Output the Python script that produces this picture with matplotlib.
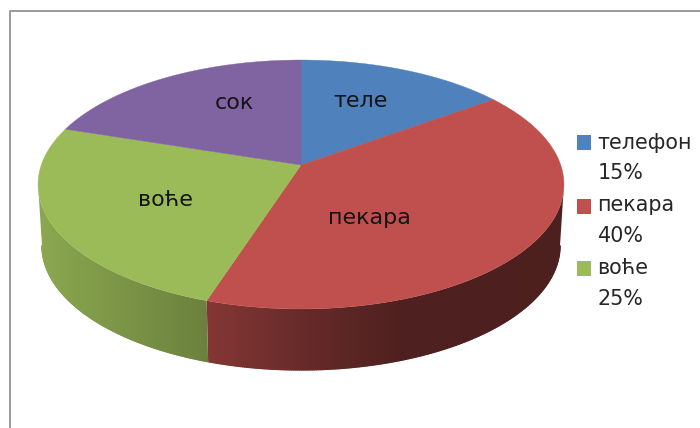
import numpy as np
import matplotlib
matplotlib.use('Agg')
import matplotlib.pyplot as plt
from matplotlib.patches import Polygon, Rectangle
from matplotlib.collections import LineCollection

# podaci
kategorije = ['телефон', 'пекара', 'воће', 'сок']
vrednosti = [15, 40, 25, 20]
natpisi = ['теле', 'пекара', 'воће', 'сок']
boje = ['#4F81BD', '#C0504D', '#9BBB59', '#8064A2']
legenda = ['телефон', '15%', 'пекара', '40%', 'воће', '25%']

plt.rcParams['font.family'] = ['DejaVu Sans']

# geometrija u pikselima slike
cx, cy = 301, 165
A, B, k = 259.7, 121.4, 0.1566
dubina = 61
skala_dna = 0.985


def projekcija(ugao):
    # ugao u stepenima, od vrha u smeru kazaljke, sa perspektivom
    u = np.sin(np.radians(ugao))
    v = np.cos(np.radians(ugao))
    w = 1 + k * v
    return cx + A * u / w, cy - B * v / w


def senka(x):
    # tamnjenje bocne strane zavisi od x
    return np.interp(x, [38, 207, 300, 400, 564], [0.90, 0.69, 0.54, 0.41, 0.40])


fig = plt.figure(figsize=(7, 4.28), dpi=100)
ax = fig.add_axes([0, 0, 1, 1])
ax.set_xlim(0, 700)
ax.set_ylim(428, 0)
ax.axis('off')

# okvir
ax.plot([9.5, 9.5, 700], [428, 10.5, 10.5], color='#9a9a9a', linewidth=1.4, zorder=1)

granice = np.cumsum([0] + vrednosti) / np.sum(vrednosti) * 360

# bocna strana: gradijent po x, isecen oblikom traka
xs = np.arange(30, 571)
for i in range(len(vrednosti)):
    uglovi = np.linspace(granice[i], granice[i + 1], 400)
    # vidljivo samo do tacke gde je ivica diska najsira (cos = -k)
    uglovi = uglovi[np.cos(np.radians(uglovi)) < -k]
    if len(uglovi) == 0:
        continue
    rgb = np.array(matplotlib.colors.to_rgb(boje[i]))
    x, y = projekcija(uglovi)
    dx = cx + skala_dna * (x - cx)
    dy = y + dubina
    traka = Polygon(np.column_stack([np.r_[x, dx[::-1]], np.r_[y, dy[::-1]]]),
                    facecolor='none', edgecolor='none', transform=ax.transData)
    ax.add_patch(traka)
    slika = (rgb[None, None, :] * senka(xs)[None, :, None]).clip(0, 1)
    im = ax.imshow(slika, extent=[30, 570, 400, 100], aspect='auto', zorder=2,
                   interpolation='bilinear')
    im.set_clip_path(traka)
    # mek donji rub
    tacke = np.column_stack([dx, dy])
    segmenti = np.stack([tacke[:-1], tacke[1:]], axis=1)
    rub = rgb * senka((dx[:-1] + dx[1:]) / 2)[:, None]
    ax.add_collection(LineCollection(segmenti, colors=rub, linewidths=1.0, zorder=2,
                                     capstyle='round'))
ax.set_xlim(0, 700)
ax.set_ylim(428, 0)

# gornja strana
for i in range(len(vrednosti)):
    uglovi = np.linspace(granice[i], granice[i + 1], 200)
    x, y = projekcija(uglovi)
    tacke = np.column_stack([np.r_[cx, x], np.r_[cy, y]])
    ax.add_patch(Polygon(tacke, facecolor=boje[i], edgecolor=boje[i], linewidth=0.3, zorder=3))

# natpisi na krugu
pozicije = [(361, 101), (369, 218), (165, 200), (234, 103)]
for t, (px, py) in zip(natpisi, pozicije):
    ax.text(px, py, t, fontsize=16, color='#141414', ha='center', va='center', zorder=4)

# legenda
kvadrati_y = [135, 199, 261]
for y0, b in zip(kvadrati_y, boje):
    ax.add_patch(Rectangle((577, y0), 14, 14.5, facecolor=b, edgecolor='none', zorder=4))
redovi_y = [143, 173, 205, 236, 268, 299]
for t, y in zip(legenda, redovi_y):
    ax.text(597.5, y, t, fontsize=14.9, color='#262626', ha='left', va='center', zorder=4)

fig.savefig('out.png', dpi=100)
